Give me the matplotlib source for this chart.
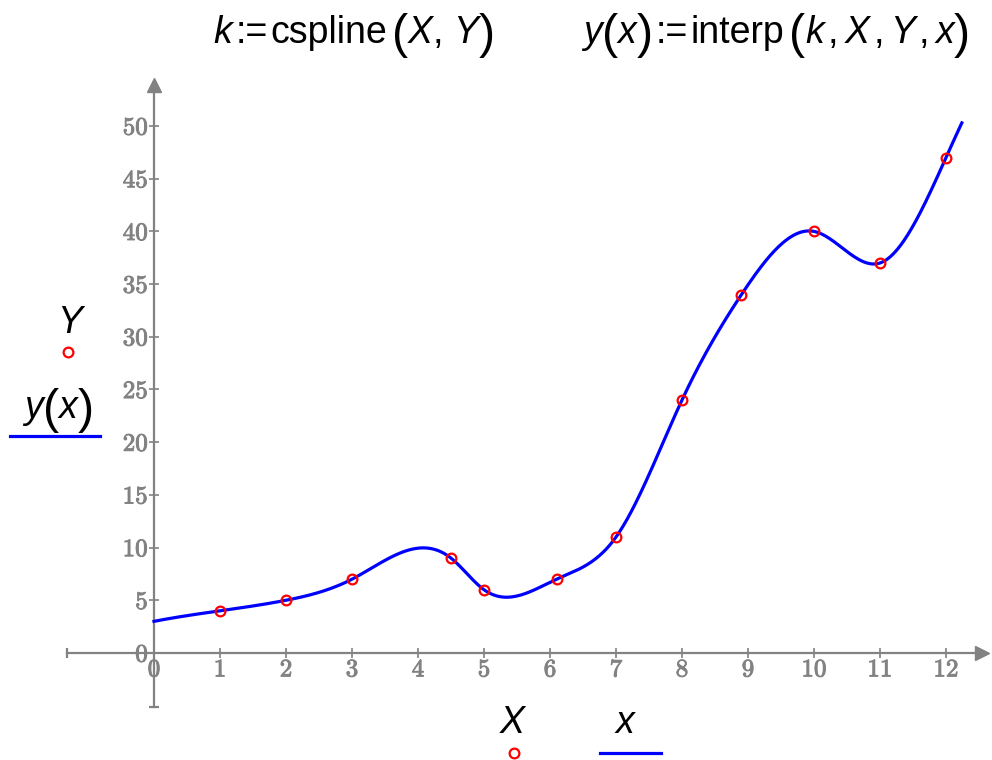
import numpy as np
import matplotlib.pyplot as plt
import matplotlib.patheffects as pe

# data points handed to cspline
X = [1, 2, 3, 4.5, 5, 6.1, 7, 8, 8.9, 10, 11, 12]
Y = [4, 5, 7, 9, 6, 7, 11, 24, 34, 40, 37, 47]

x_ticks = list(range(0, 13))
y_ticks = list(range(0, 51, 5))

GRAY = '#828282'
SANS = 'Liberation Sans'


def cspline(x, y):
    """second derivatives of the spline through (x, y), flat curvature at the ends"""
    x = np.asarray(x, float)
    y = np.asarray(y, float)
    n = len(x)
    h = np.diff(x)
    A = np.zeros((n, n))
    b = np.zeros(n)
    A[0, 0] = 1
    A[-1, -1] = 1
    for i in range(1, n - 1):
        A[i, i - 1] = h[i - 1]
        A[i, i] = 2 * (h[i - 1] + h[i])
        A[i, i + 1] = h[i]
        b[i] = 6 * ((y[i + 1] - y[i]) / h[i] - (y[i] - y[i - 1]) / h[i - 1])
    return np.linalg.solve(A, b)


def interp(k, x, y, t):
    x = np.asarray(x, float)
    y = np.asarray(y, float)
    i = np.clip(np.searchsorted(x, t) - 1, 0, len(x) - 2)
    h = x[i + 1] - x[i]
    a = x[i + 1] - t
    c = t - x[i]
    return (k[i] * a ** 3 / (6 * h) + k[i + 1] * c ** 3 / (6 * h)
            + (y[i] / h - k[i] * h / 6) * a + (y[i + 1] / h - k[i + 1] * h / 6) * c)


k = cspline(X, Y)
xs = np.linspace(0, 12.24, 600)
ys = interp(k, X, Y, xs)

fig = plt.figure(figsize=(9.92, 7.6), dpi=100)
ax = fig.add_axes([55 / 992, (760 - 716.2) / 760, 930.6 / 992, 642.9 / 760])
ax.set_xlim(-1.5, 12.6)
ax.set_ylim(-6, 55)

# axes crossing at the origin, with end caps and arrow heads
for side in ('top', 'right'):
    ax.spines[side].set_visible(False)
ax.spines['left'].set_position(('data', 0))
ax.spines['bottom'].set_position(('data', 0))
ax.spines['left'].set_bounds(-5.1, 54)
ax.spines['bottom'].set_bounds(-1.32, 12.5)
for side in ('left', 'bottom'):
    ax.spines[side].set_color(GRAY)
    ax.spines[side].set_linewidth(1.6)
ax.plot([12.55], [0], marker='>', ms=10, color=GRAY, clip_on=False)
ax.plot([0], [53.9], marker='^', ms=10, color=GRAY, clip_on=False)
ax.plot([-1.32], [0], marker='|', ms=7, mew=1.6, color=GRAY, clip_on=False)
ax.plot([0], [-5.1], marker='_', ms=7, mew=1.6, color=GRAY, clip_on=False)

ax.set_xticks(x_ticks)
ax.set_yticks(y_ticks)
ax.tick_params(direction='inout', length=7, width=1.2, color=GRAY,
               labelcolor=GRAY, labelsize=18, pad=1)
for lbl in ax.get_xticklabels() + ax.get_yticklabels():
    lbl.set_fontfamily('cmr10')
    lbl.set_path_effects([pe.withStroke(linewidth=0.7, foreground=GRAY)])

ax.plot(xs, ys, color='blue', lw=2.3, zorder=3)
ax.plot(X, Y, 'o', ms=7, mfc='none', mec='red', mew=1.6, zorder=4)

# overlay in pixel units for the formulas and the axis legends
leg = fig.add_axes([0, 0, 1, 1], facecolor='none')
leg.set_xlim(0, 992)
leg.set_ylim(760, 0)
leg.axis('off')
renderer = fig.canvas.get_renderer()


def formula(x0, y0, pieces, size=27):
    """write pieces left to right on one baseline; parens drawn taller"""
    x = x0
    for txt, style in pieces:
        if style == 'gap':
            x += txt
            continue
        paren = style == 'paren'
        t = leg.text(x, y0 + (5 if paren else 0), txt,
                     fontsize=size * 1.3 if paren else size,
                     fontstyle='italic' if style == 'it' else 'normal',
                     family=SANS, ha='left', va='baseline')
        x += t.get_window_extent(renderer).width
    return x


formula(213, 43, [('k', 'it'), (4, 'gap'), (':=', 'rm'), (2, 'gap'),
                  ('cspline', 'rm'), (5, 'gap'), ('(', 'paren'), ('X', 'it'),
                  (',', 'rm'), (10, 'gap'), ('Y', 'it'), (')', 'paren')])
formula(583, 43, [('y', 'it'), ('(', 'paren'), ('x', 'it'), (')', 'paren'),
                  (3, 'gap'), (':=', 'rm'), (2, 'gap'), ('interp', 'rm'),
                  (5, 'gap'), ('(', 'paren'), ('k', 'it'), (4, 'gap'), (',', 'rm'),
                  (6, 'gap'), ('X', 'it'), (4, 'gap'), (',', 'rm'), (6, 'gap'),
                  ('Y', 'it'), (4, 'gap'), (',', 'rm'), (6, 'gap'), ('x', 'it'),
                  (')', 'paren')])

leg.text(70, 333, 'Y', fontsize=27, fontstyle='italic', family=SANS,
         ha='center', va='baseline')
formula(24, 418, [('y', 'it'), ('(', 'paren'), ('x', 'it'), (')', 'paren')])
leg.text(512, 733, 'X', fontsize=27, fontstyle='italic', family=SANS,
         ha='center', va='baseline')
leg.text(625, 733, 'x', fontsize=27, fontstyle='italic', family=SANS,
         ha='center', va='baseline')

leg.plot([68], [352], 'o', ms=7, mfc='none', mec='red', mew=1.6)
leg.plot([514], [753], 'o', ms=7, mfc='none', mec='red', mew=1.6)
leg.plot([10, 100], [436, 436], color='blue', lw=2.3)
leg.plot([600, 661], [753, 753], color='blue', lw=2.3)

fig.savefig('out.png', dpi=100)
